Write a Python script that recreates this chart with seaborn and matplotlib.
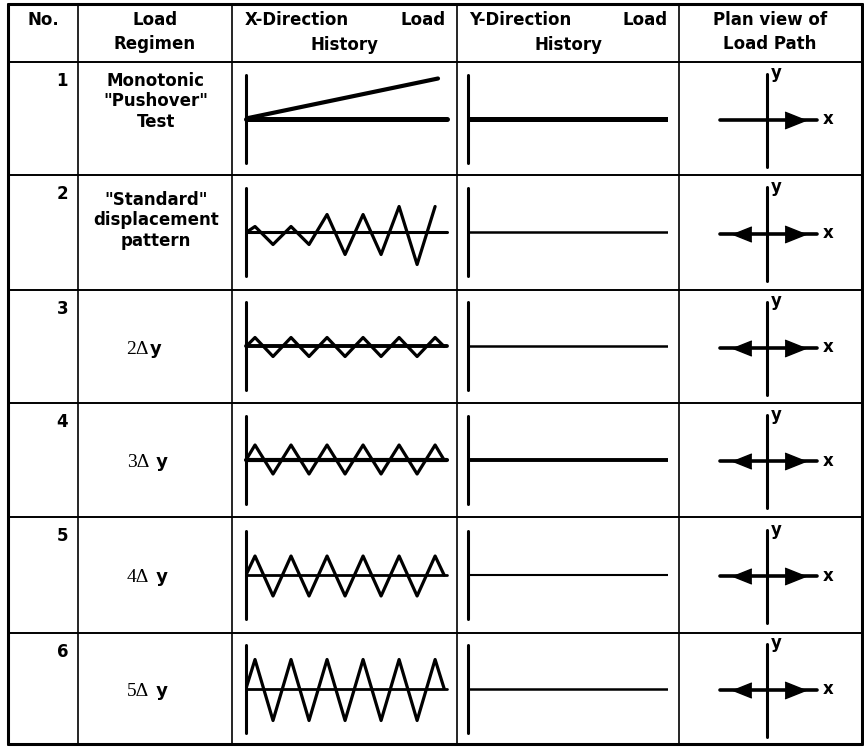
import seaborn as sns
import matplotlib.pyplot as plt

# --- table text ---
header_no = 'No.'
header_regimen = 'Load\nRegimen'
header_plan = 'Plan view of\nLoad Path'
row_numbers = ['1', '2', '3', '4', '5', '6']
regimens = ['Monotonic\n"Pushover"\nTest', '"Standard"\ndisplacement\npattern',
            '2Δy', '3Δ y', '4Δ y', '5Δ y']

# --- X-direction load histories (time in cycles, displacement) ---
mono_t = [0.0, 5.33]
mono_d = [0.0, 40.0]

standard_t = [0, 0.25, 0.75, 1.25, 1.75, 2.25, 2.75, 3.25, 3.75, 4.25, 4.75, 5.25]
standard_d = [0, 6, -12, 6, -12, 18, -22, 18, -22, 26, -32, 26]

cyclic_t = [0, 0.25, 0.75, 1.25, 1.75, 2.25, 2.75, 3.25, 3.75, 4.25, 4.75, 5.25, 5.5]
d_2dy = [0, 9, -10, 9, -10, 9, -10, 9, -10, 9, -10, 9, 0]
d_3dy = [0, 15, -14, 15, -14, 15, -14, 15, -14, 15, -14, 15, 0]
d_4dy = [0, 19, -21, 19, -21, 19, -21, 19, -21, 19, -21, 19, 0]
d_5dy = [0, 29, -32, 29, -32, 29, -32, 29, -32, 29, -32, 29, 0]

x_histories = [(mono_t, mono_d), (standard_t, standard_d), (cyclic_t, d_2dy),
               (cyclic_t, d_3dy), (cyclic_t, d_4dy), (cyclic_t, d_5dy)]

# --- Y-direction load histories (no load) ---
y_t = [0.0, 5.55]
y_d = [0.0, 0.0]

# --- plan view load path directions ---
plan_dirs = [['+x'], ['-x', '+x'], ['-x', '+x'], ['-x', '+x'], ['-x', '+x'], ['-x', '+x']]

# line weights per row (as printed)
x_base_lw = [3.6, 2.2, 2.8, 3.0, 2.0, 2.0]
y_line_lw = [3.6, 1.8, 1.8, 2.8, 1.5, 1.8]

sns.set_theme(style='white')
plt.rcParams['font.family'] = ['DejaVu Sans']

W, H = 864, 747
fig = plt.figure(figsize=(W / 100, H / 100), dpi=100)
bg = fig.add_axes([0, 0, 1, 1])
bg.set_xlim(0, W)
bg.set_ylim(H, 0)
bg.axis('off')

col_edges = [8, 78, 232, 457, 679, 862]
row_edges = [4, 62, 175, 290, 403, 517, 633, 744]

for i, x in enumerate(col_edges):
    outer = i in (0, len(col_edges) - 1)
    bg.plot([x, x], [row_edges[0], row_edges[-1]], color='black', lw=2.2 if outer else 1.2)
for i, y in enumerate(row_edges):
    outer = i in (0, len(row_edges) - 1)
    bg.plot([col_edges[0], col_edges[-1]], [y, y], color='black', lw=2.2 if outer else 1.4)

fs = 12
bold = dict(fontsize=fs, fontweight='bold', color='black')

# header
bg.text(43, 20, header_no, ha='center', va='center', **bold)
bg.text(155, 32, header_regimen, ha='center', va='center', linespacing=1.45, **bold)
bg.text(245, 20, 'X-Direction', ha='left', va='center', **bold)
bg.text(446, 20, 'Load', ha='right', va='center', **bold)
bg.text(345, 45, 'History', ha='center', va='center', **bold)
bg.text(469, 20, 'Y-Direction', ha='left', va='center', **bold)
bg.text(668, 20, 'Load', ha='right', va='center', **bold)
bg.text(568, 45, 'History', ha='center', va='center', **bold)
bg.text(770, 32, header_plan, ha='center', va='center', linespacing=1.45, **bold)


def px_axes(x0, x1, yc, half):
    ax = fig.add_axes([x0 / W, 1 - (yc + half) / H, (x1 - x0) / W, 2 * half / H])
    ax.set_facecolor('none')
    for s in ax.spines.values():
        s.set_visible(False)
    ax.set_xticks([])
    ax.set_yticks([])
    return ax


for r in range(6):
    top, bot = row_edges[r + 1], row_edges[r + 2]
    yc = (top + bot) / 2

    # row number
    bg.text(68, top + 10, row_numbers[r], ha='right', va='top', **bold)

    # regimen text
    reg = regimens[r]
    if 'Δ' in reg:
        pre, post = reg.split('Δ')
        bg.text(149, yc + 7, pre + 'Δ', ha='right', va='baseline',
                fontsize=14, family='Liberation Serif', color='black')
        bg.text(150, yc + 7, post, ha='left', va='baseline', fontsize=13,
                fontweight='bold', color='black')
    else:
        bg.text(156, top + (10 if r == 0 else 16), reg, ha='center', va='top',
                linespacing=1.17, **bold)

    # X-direction history
    ax = px_axes(246, 447, yc, 44)
    ax.set_xlim(0, 5.58)
    ax.set_ylim(-44, 44)
    ax.axvline(0, color='black', lw=2.2, clip_on=False)
    ax.axhline(0, color='black', lw=x_base_lw[r], clip_on=False)
    t, d = x_histories[r]
    sns.lineplot(x=t, y=d, ax=ax, color='black', lw=2.3 if r else 3.0,
                 estimator=None, sort=False)

    # Y-direction history
    ay = px_axes(468, 668, yc, 44)
    ay.set_xlim(0, 5.55)
    ay.set_ylim(-44, 44)
    ay.axvline(0, color='black', lw=2.2, clip_on=False)
    sns.lineplot(x=y_t, y=y_d, ax=ay, color='black', lw=y_line_lw[r],
                 estimator=None, sort=False)

    # plan view
    ap = px_axes(712, 850, yc + 1, 52)
    ap.set_xlim(-55, 83)
    ap.set_ylim(-52, 52)
    ap.plot([0, 0], [-47, 46], color='black', lw=2.2)
    ap.plot([-47, 50], [0, 0], color='black', lw=2.6)
    for dname in plan_dirs[r]:
        if dname == '+x':
            ap.plot([28], [0], marker=[(-1, -0.8), (1, 0), (-1, 0.8)],
                    markersize=15, color='black')
        else:
            ap.plot([-25], [0], marker=[(1, -0.8), (-1, 0), (1, 0.8)],
                    markersize=13.5, color='black')
    ap.text(4, 46, 'y', ha='left', va='center', **bold)
    ap.text(56, 0, 'x', ha='left', va='center', **bold)

fig.savefig('out.png', dpi=100)
